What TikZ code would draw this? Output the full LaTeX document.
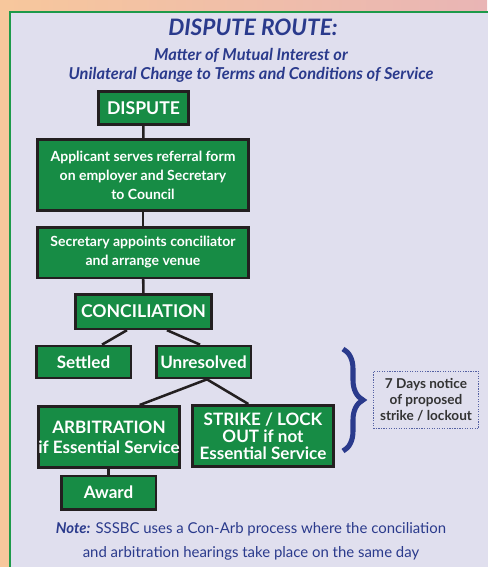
\documentclass[tikz,border=0pt]{standalone}
\usepackage{fontspec}
\setmainfont{Lato}
\usetikzlibrary{decorations.pathreplacing}
\definecolor{routegreen}{HTML}{178C45}
\definecolor{routeedge}{HTML}{231F20}
\definecolor{routeblue}{HTML}{2A3A8C}
\definecolor{panelbg}{HTML}{E0DFEE}
\definecolor{panelline}{HTML}{1E9A4A}
\definecolor{peachA}{HTML}{F7C79C}
\definecolor{peachB}{HTML}{E9B5B5}
\definecolor{noticegrey}{HTML}{333333}
\tikzset{
  stepbox/.style={draw=routeedge, line width=2pt, fill=routegreen, text=white,
    font=\bfseries, align=center, inner sep=0pt},
  link/.style={draw=routeedge, line width=1.9pt},
}
\begin{document}
\begin{tikzpicture}[x=0.75pt,y=-0.75pt]
    \useasboundingbox (0,0) rectangle (487,567);
    \shade[left color=peachA, right color=peachB] (0,0) rectangle (487,567);
    \draw[panelline, line width=2pt, fill=panelbg] (10,12) rectangle (500,580);

    \node[text=routeblue, font=\fontsize{17}{20}\selectfont\bfseries\itshape] (title) at (253,27) {DISPUTE ROUTE:};
    \node[text=routeblue, font=\fontsize{12.3}{14.3}\selectfont\bfseries\itshape, align=center] (subtitle) at (251,65)
      {Matter of Mutual Interest or\\Unilateral Change to Terms and Conditions of Service};

    \node[stepbox, minimum width=67.5pt, minimum height=25pt, font=\fontsize{13.2}{14}\selectfont\bfseries] (dispute) at (143.5,108) {DISPUTE};
    \node[stepbox, minimum width=158pt, minimum height=53pt, font=\fontsize{10.5}{14.2}\selectfont\bfseries] (referral) at (143,175)
      {Applicant serves referral form\\on employer and Secretary\\to Council};
    \node[stepbox, minimum width=158pt, minimum height=38pt, font=\fontsize{10.5}{14.2}\selectfont\bfseries] (secretary) at (143,252.5)
      {Secretary appoints conciliator\\and arrange venue};
    \node[stepbox, minimum width=102pt, minimum height=26pt, font=\fontsize{13.2}{14}\selectfont\bfseries] (concil) at (143.5,311.5) {CONCILIATION};
    \node[stepbox, minimum width=71pt, minimum height=24pt, font=\fontsize{12.8}{14}\selectfont\bfseries] (settled) at (83.5,362) {Settled};
    \node[stepbox, minimum width=71pt, minimum height=24pt, font=\fontsize{12.8}{14}\selectfont\bfseries] (unresolved) at (203.5,362) {Unresolved};
    \node[stepbox, minimum width=106pt, minimum height=46pt, font=\fontsize{12.8}{15}\selectfont\bfseries] (arbitration) at (109,437)
      {ARBITRATION\\if Essential Service};
    \node[stepbox, minimum width=106pt, minimum height=46pt, font=\fontsize{12.8}{12.8}\selectfont\bfseries] (strike) at (263,436)
      {STRIKE / LOCK\\OUT if not\\Essential Service};
    \node[stepbox, minimum width=71pt, minimum height=25pt, font=\fontsize{12.8}{14}\selectfont\bfseries] (award) at (108.5,492.5) {Award};

    \node[draw=routeblue!80, densely dotted, line width=0.9pt, minimum width=79pt, minimum height=43pt, inner sep=0pt,
      text=noticegrey, align=center, font=\fontsize{10.2}{12}\selectfont\bfseries] (notice) at (426,400)
      {7 Days notice\\of proposed\\strike / lockout};

    \coordinate (braceTop) at (343,349);
    \coordinate (braceBottom) at (343,451);

    \node[text=routeblue, font=\fontsize{11.2}{18}\selectfont, align=center] (note) at (251,541)
      {\textbf{\textit{Note:}} SSSBC uses a Con-Arb process where the conciliation\\and arbitration hearings take place on the same day};

    \draw[link] (dispute) -- (referral);
    \draw[link] (referral) -- (secretary);
    \draw[link] (secretary) -- (concil);
    \draw[link] ([xshift=-12.4pt]concil.south) -- ([xshift=13.9pt]settled.north);
    \draw[link] ([xshift=17.6pt]concil.south) -- ([xshift=-2.6pt]unresolved.north);
    \draw[link] ([xshift=2.6pt]unresolved.south) -- ([xshift=23pt]arbitration.north);
    \draw[link] ([xshift=2.6pt]unresolved.south) -- ([xshift=-11pt]strike.north);
    \draw[link] (arbitration.south -| award.north) -- (award.north);

    \draw[routeblue, line width=3.8pt, decorate, decoration={brace, amplitude=15pt}] (braceTop) -- (braceBottom);
  \end{tikzpicture}
\end{document}
